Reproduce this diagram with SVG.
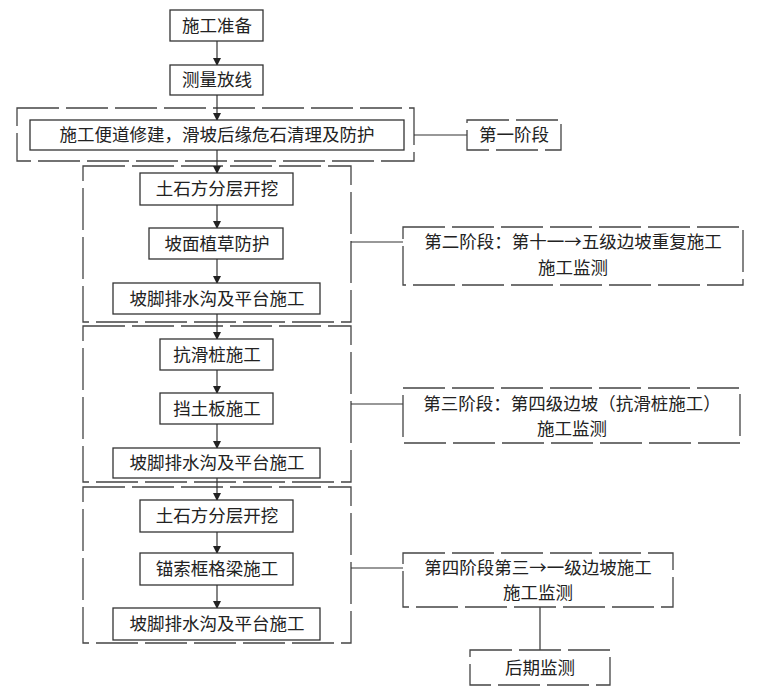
<svg xmlns="http://www.w3.org/2000/svg" width="760" height="692" viewBox="0 0 760 692">
<style>
.b{fill:#fff;stroke:#333;stroke-width:1.3}
.f{fill:none;stroke:#444;stroke-width:1.3;stroke-dasharray:42 7}
.s{fill:#fff;stroke:#444;stroke-width:1.3;stroke-dasharray:42 7}
.l{fill:none;stroke:#333;stroke-width:1.2}
text{font-family:"Noto Sans CJK SC",sans-serif;font-size:17.5px;fill:#222;text-anchor:middle}
</style>
<defs>
<marker id="d" markerWidth="8" markerHeight="10" refX="7" refY="5" orient="auto" markerUnits="userSpaceOnUse"><path d="M0,1 L8,5 L0,9 Z" fill="#222"/></marker></defs>
<g id="frames">
<rect class="f" x="17" y="108" width="397" height="53"/>
<rect class="f" x="83" y="166" width="268" height="156"/>
<rect class="f" x="83" y="326" width="268" height="156"/>
<rect class="f" x="83" y="487" width="268" height="156"/>
</g>
<g id="connectors">
<line class="l" x1="217" y1="41" x2="217" y2="65" marker-end="url(#d)"/>
<line class="l" x1="217" y1="95" x2="217" y2="120" marker-end="url(#d)"/>
<line class="l" x1="217" y1="150" x2="217" y2="173" marker-end="url(#d)"/>
<line class="l" x1="217" y1="205" x2="217" y2="228" marker-end="url(#d)"/>
<line class="l" x1="217" y1="259" x2="217" y2="283" marker-end="url(#d)"/>
<line class="l" x1="217" y1="314" x2="217" y2="339" marker-end="url(#d)"/>
<line class="l" x1="217" y1="370" x2="217" y2="393" marker-end="url(#d)"/>
<line class="l" x1="217" y1="424" x2="217" y2="448" marker-end="url(#d)"/>
<line class="l" x1="217" y1="478" x2="217" y2="500" marker-end="url(#d)"/>
<line class="l" x1="217" y1="532" x2="217" y2="553" marker-end="url(#d)"/>
<line class="l" x1="217" y1="585" x2="217" y2="608" marker-end="url(#d)"/>
<line class="l" x1="414" y1="135" x2="467" y2="135"/>
<line class="l" x1="351" y1="242" x2="403" y2="242"/>
<line class="l" x1="351" y1="404" x2="403" y2="404"/>
<line class="l" x1="351" y1="568" x2="403" y2="568"/>
<line class="l" x1="540" y1="607" x2="540" y2="650"/>
</g>
<g id="n1"><rect class="b" x="170" y="10" width="93" height="31"/><text x="217" y="32">施工准备</text></g>
<g id="n2"><rect class="b" x="170" y="65" width="93" height="30"/><text x="217" y="86">测量放线</text></g>
<g id="n3"><rect class="b" x="30" y="120" width="374" height="30"/><text x="217" y="141">施工便道修建，滑坡后缘危石清理及防护</text></g>
<g id="p1"><rect class="s" x="467" y="120" width="94" height="30"/><text x="514" y="141">第一阶段</text></g>
<g id="n4"><rect class="b" x="140" y="173" width="153" height="32"/><text x="217" y="195">土石方分层开挖</text></g>
<g id="n5"><rect class="b" x="149" y="228" width="134" height="31"/><text x="217" y="250">坡面植草防护</text></g>
<g id="n6"><rect class="b" x="113" y="283" width="207" height="31"/><text x="217" y="305">坡脚排水沟及平台施工</text></g>
<g id="p2"><rect class="s" x="403" y="227" width="340" height="58"/><text x="573" y="248">第二阶段：第十一→五级边坡重复施工</text><text x="573" y="274">施工监测</text></g>
<g id="n7"><rect class="b" x="160" y="339" width="113" height="31"/><text x="217" y="361">抗滑桩施工</text></g>
<g id="n8"><rect class="b" x="160" y="393" width="113" height="31"/><text x="217" y="415">挡土板施工</text></g>
<g id="n9"><rect class="b" x="113" y="448" width="207" height="30"/><text x="217" y="469">坡脚排水沟及平台施工</text></g>
<g id="p3"><rect class="s" x="403" y="388" width="337" height="55"/><text x="572" y="410">第三阶段：第四级边坡（抗滑桩施工）</text><text x="572" y="435">施工监测</text></g>
<g id="n10"><rect class="b" x="140" y="500" width="153" height="32"/><text x="217" y="522">土石方分层开挖</text></g>
<g id="n11"><rect class="b" x="140" y="553" width="153" height="32"/><text x="217" y="575">锚索框格梁施工</text></g>
<g id="n12"><rect class="b" x="113" y="608" width="207" height="32"/><text x="217" y="630">坡脚排水沟及平台施工</text></g>
<g id="p4"><rect class="s" x="403" y="553" width="270" height="54"/><text x="538" y="574">第四阶段第三→一级边坡施工</text><text x="538" y="599">施工监测</text></g>
<g id="n13"><rect class="s" x="470" y="650" width="140" height="35"/><text x="540" y="674">后期监测</text></g>
</svg>
